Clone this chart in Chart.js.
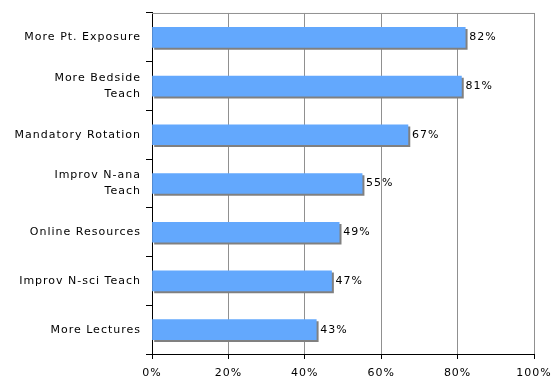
<!DOCTYPE html>
<html>
<head>
<meta charset="utf-8">
<script src="https://cdn.jsdelivr.net/npm/chart.js@4/dist/chart.umd.min.js"></script>
<style>
  html, body { margin: 0; padding: 0; background: #fff; }
  #wrap { width: 559px; height: 390px; }
</style>
</head>
<body>
<div id="wrap"><canvas id="chart" width="559" height="390"></canvas></div>
<script>
// Survey responses (% of respondents)
const categories = [
    'More Pt. Exposure',
    ['More Bedside', 'Teach'],
    'Mandatory Rotation',
    ['Improv N-ana', 'Teach'],
    'Online Resources',
    'Improv N-sci Teach',
    'More Lectures'
];
const percentValues = [82, 81, 67, 55, 49, 47, 43];
const xTicks = [0, 20, 40, 60, 80, 100];

const FONT = { family: 'Verdana, "DejaVu Sans", sans-serif', size: 11 };

// wide Verdana-like spacing for all canvas text
const textSpacing = {
    id: 'textSpacing',
    beforeDraw(chart) {
        chart.ctx.letterSpacing = '1px';
    }
};

// drop shadow under each bar (bottom-right, flat gray)
const barShadow = {
    id: 'barShadow',
    beforeDatasetDraw(chart) {
        const ctx = chart.ctx;
        ctx.save();
        ctx.shadowColor = '#808080';
        ctx.shadowOffsetX = 2;
        ctx.shadowOffsetY = 2;
        ctx.shadowBlur = 0;
    },
    afterDatasetDraw(chart) {
        chart.ctx.restore();
    }
};

// value labels at bar ends
const valueLabels = {
    id: 'valueLabels',
    afterDatasetsDraw(chart) {
        const ctx = chart.ctx;
        const meta = chart.getDatasetMeta(0);
        ctx.save();
        ctx.font = FONT.size + 'px ' + FONT.family;
        ctx.fillStyle = '#000';
        ctx.textAlign = 'left';
        ctx.textBaseline = 'middle';
        meta.data.forEach((bar, i) => {
            ctx.fillText(percentValues[i] + '%', bar.x + 4, bar.y);
        });
        ctx.restore();
    }
};

// gray frame round the plot area
const plotFrame = {
    id: 'plotFrame',
    beforeDatasetsDraw(chart) {
        const { ctx, chartArea: a } = chart;
        ctx.save();
        ctx.strokeStyle = '#909090';
        ctx.lineWidth = 1;
        ctx.beginPath();
        ctx.moveTo(a.left, a.top + 0.5);
        ctx.lineTo(a.right + 0.5, a.top + 0.5);
        ctx.lineTo(a.right + 0.5, a.bottom);
        ctx.stroke();
        ctx.restore();
    }
};

new Chart(document.getElementById('chart'), {
    type: 'bar',
    data: {
        labels: categories,
        datasets: [{
            data: percentValues,
            backgroundColor: '#63a8fd',
            borderWidth: 0,
            barThickness: 20
        }]
    },
    options: {
        indexAxis: 'y',
        responsive: false,
        animation: false,
        layout: { padding: { top: 10, right: 25, left: 0, bottom: 0 } },
        plugins: {
            legend: { display: false },
            tooltip: { enabled: false }
        },
        scales: {
            x: {
                min: 0,
                max: 100,
                afterBuildTicks(scale) {
                    scale.ticks = xTicks.map(v => ({ value: v }));
                },
                afterFit(scale) { scale.height = 36; },
                ticks: {
                    color: '#000',
                    font: FONT,
                    padding: 8,
                    maxRotation: 0,
                    callback: v => v + '%'
                },
                grid: {
                    color: '#909090',
                    tickColor: '#000',
                    tickLength: 5,
                    lineWidth: 1
                },
                border: { color: '#000', width: 1 }
            },
            y: {
                afterFit(scale) { scale.width = 152; },
                ticks: {
                    color: '#000',
                    font: { ...FONT, lineHeight: 1.45 },
                    padding: 5
                },
                grid: {
                    drawOnChartArea: false,
                    tickColor: '#000',
                    tickLength: 6,
                    offset: true
                },
                border: { color: '#000', width: 1 }
            }
        }
    },
    plugins: [textSpacing, plotFrame, barShadow, valueLabels]
});
</script>
</body>
</html>
